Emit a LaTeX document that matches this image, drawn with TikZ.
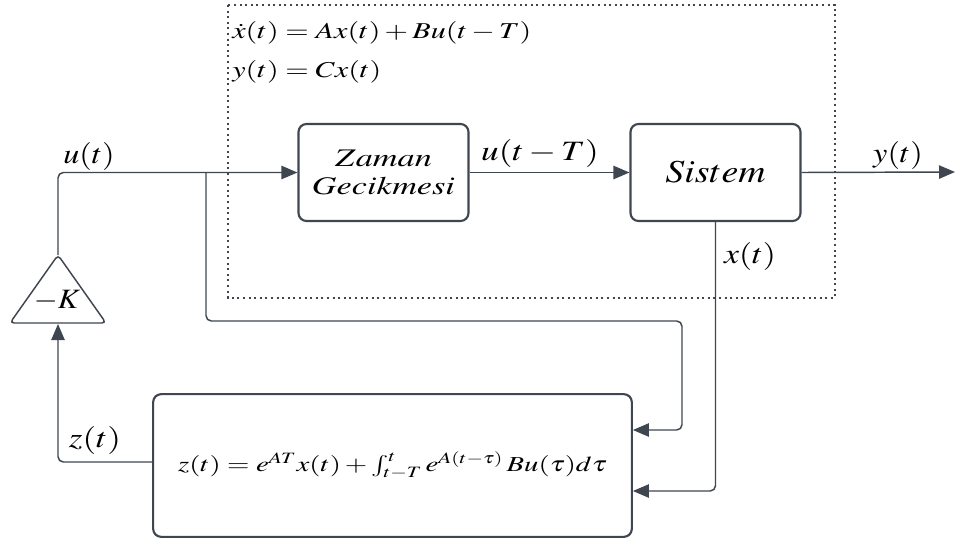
\documentclass[tikz,border=0pt]{standalone}
\usepackage{mathptmx}
\usetikzlibrary{arrows.meta}
\definecolor{ln}{HTML}{3F4650}
\newcommand{\hs}[2]{\scalebox{#1}[1]{#2}}
\tikzset{
  blk/.style={draw=ln, line width=1.6pt, rounded corners=6pt, inner sep=0pt},
  conn/.style={draw=ln, line width=1.1pt, rounded corners=4pt},
  arr/.style={conn, -{Triangle[length=12pt,width=10pt]}},
  lbl/.style={inner sep=0pt, text=black},
  big/.style={font=\fontsize{21}{24}\selectfont},
}
\begin{document}
\begin{tikzpicture}[x=0.75pt,y=-0.75pt]
\useasboundingbox (0,0) rectangle (955,543);
% dotted frame
\draw[ln, line width=1.8pt, dash pattern=on 1.5pt off 2.7pt] (228,5) rectangle (835,298);
\node[lbl, anchor=west, font=\fontsize{17}{19}\selectfont] (eq1) at (232,33) {\hs{1.33}{$\dot{x}(t) = Ax(t) + Bu(t-T)$}};
\node[lbl, anchor=west, font=\fontsize{17}{19}\selectfont] (eq2) at (232,72) {\hs{1.33}{$y(t) = Cx(t)$}};
% blocks
\node[blk, minimum width=127.5pt, minimum height=72.75pt, align=center, font=\fontsize{19}{17}\selectfont] (zg) at (383.5,172.5) {\hs{1.35}{$Zaman$}\\[4pt]\hs{1.35}{$Gecikmesi$}};
\node[blk, minimum width=127.5pt, minimum height=72.75pt, font=\fontsize{24}{26}\selectfont] (sys) at (715.5,172.5) {\hs{1.18}{$Sistem$}};
\node[blk, minimum width=359pt, minimum height=107pt, font=\fontsize{16}{18}\selectfont] (zb) at (392.5,465.5) {\hs{1.35}{$z(t) = e^{AT}x(t) + \int_{t-T}^{t} e^{A(t-\tau)}\,Bu(\tau)d\tau$}};
% gain triangle
\coordinate (ktop) at (58,255);
\coordinate (kbot) at (58,324);
\draw[ln, line width=1.1pt, fill=white, rounded corners=3pt] (58,255) -- (106,323) -- (10,323) -- cycle;
\node[lbl, font=\fontsize{21}{24}\selectfont] (kl) at (57,301) {\hs{1.1}{$-K$}};
% branch point
\coordinate (br) at (206,172);
% connectors
\draw[arr] (ktop) |- (zg.west);
\draw[arr] (zg.east) -- (sys.west);
\draw[arr] (sys.east) -- (955,172);
\draw[arr] (br) |- (682,321) |- (zb.east |- 0,430);
\draw[arr] (sys.south) |- (zb.east |- 0,491);
\draw[arr] (zb.west |- 0,462) -| (kbot);
% labels
\node[lbl, big] (ul) at (89,156) {\hs{1.15}{$u(t)$}};
\node[lbl, big] (utl) at (540,153) {\hs{1.26}{$u(t-T)$}};
\node[lbl, big] (yl) at (898,155) {\hs{1.15}{$y(t)$}};
\node[lbl, big] (xl) at (750,256) {\hs{1.2}{$x(t)$}};
\node[lbl, big] (zl) at (95,440) {\hs{1.25}{$z(t)$}};
\end{tikzpicture}
\end{document}
